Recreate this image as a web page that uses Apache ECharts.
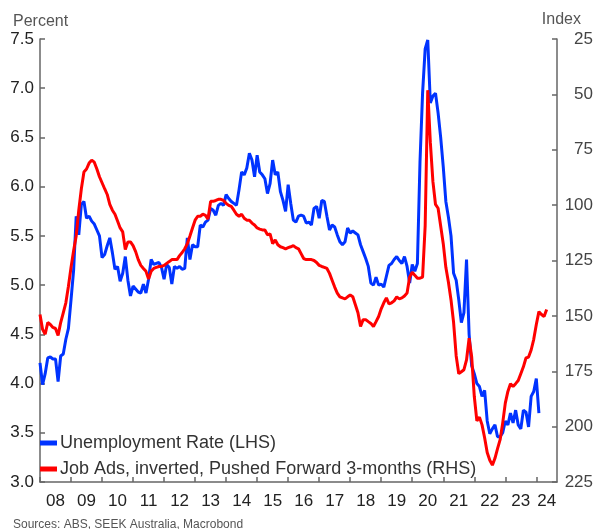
<!DOCTYPE html>
<html>
<head>
<meta charset="utf-8">
<script src="https://cdn.jsdelivr.net/npm/echarts@6/dist/echarts.min.js"></script>
<style>
  html, body { margin: 0; padding: 0; background: #fff; }
  #chart { width: 596px; height: 529px; }
</style>
</head>
<body>
<div id="chart"></div>
<script>
/* Unemployment rate vs inverted job ads, monthly Jan 2008 .. Sep 2024 */

const FIRST_YEAR = 2008;
const LAST_MONTH = '2024-09';

// Unemployment rate, % (LHS), Jan 2008 onward — one row per year
const unemployment = [
  4.21, 3.99, 4.10, 4.26, 4.27, 4.25, 4.25, 4.02, 4.28, 4.30, 4.45, 4.56,
  4.85, 5.15, 5.70, 5.51, 5.82, 5.85, 5.68, 5.70, 5.65, 5.62, 5.56, 5.50,
  5.28, 5.31, 5.40, 5.48, 5.33, 5.16, 5.19, 5.04, 5.12, 5.29, 5.05, 4.89,
  4.99, 4.96, 4.93, 4.92, 5.01, 4.92, 5.06, 5.26, 5.21, 5.22, 5.23, 5.18,
  5.06, 5.21, 5.18, 5.01, 5.19, 5.17, 5.19, 5.16, 5.17, 5.48, 5.26, 5.41,
  5.39, 5.39, 5.61, 5.59, 5.64, 5.66, 5.78, 5.76, 5.71, 5.81, 5.83, 5.81,
  5.92, 5.88, 5.85, 5.83, 5.81, 5.97, 6.15, 6.12, 6.19, 6.34, 6.27, 6.10,
  6.32, 6.15, 6.12, 6.08, 5.93, 6.03, 6.27, 6.12, 6.15, 5.95, 5.86, 5.75,
  6.02, 5.83, 5.66, 5.64, 5.70, 5.71, 5.70, 5.63, 5.64, 5.61, 5.78, 5.80,
  5.68, 5.86, 5.85, 5.70, 5.56, 5.61, 5.59, 5.51, 5.44, 5.41, 5.44, 5.58,
  5.53, 5.55, 5.53, 5.51, 5.41, 5.34, 5.27, 5.19, 5.02, 5.00, 5.08, 5.00,
  5.01, 4.98, 5.09, 5.20, 5.22, 5.26, 5.29, 5.25, 5.22, 5.29, 5.19, 5.02,
  5.21, 5.14, 5.22, 6.25, 6.95, 7.40, 7.49, 6.85, 6.92, 6.95, 6.75, 6.50,
  6.20, 5.85, 5.69, 5.50, 5.12, 5.05, 4.85, 4.62, 4.72, 5.26, 4.50, 4.18,
  4.10, 4.00, 3.97, 3.87, 3.93, 3.62, 3.49, 3.54, 3.58, 3.46, 3.46, 3.50,
  3.62, 3.58, 3.70, 3.60, 3.73, 3.58, 3.54, 3.73, 3.71, 3.56, 3.87, 3.92,
  4.05, 3.70,
];

// SEEK job ads index, pushed forward 3 months (RHS, plotted inverted)
const jobAds = [
  149.4, 156.1, 158.3, 153.0, 153.9, 155.2, 155.7, 158.8, 153.0, 148.6, 144.1, 136.6,
  128.1, 120.6, 113.9, 102.3,  92.6,  85.0,  83.7,  81.0,  79.7,  80.6,  83.7,  87.2,
   89.9,  92.6,  95.2,  99.7, 102.3, 104.1, 107.2, 110.3, 112.1, 120.1, 116.6, 116.6,
  118.3, 121.0, 124.6, 127.2, 128.6, 129.9, 133.4, 129.9, 128.6, 128.1, 127.7, 127.7,
  127.2, 126.3, 125.5, 124.6, 124.6, 124.6, 122.8, 121.4, 119.7, 117.4, 113.9, 110.3,
  106.8, 105.0, 105.0, 104.1, 104.6, 106.3,  98.3,  98.3,  97.9,  97.4,  97.4,  97.9,
   99.2, 100.1, 100.6, 102.3, 104.1, 105.0, 104.1, 105.9, 106.8, 106.8, 108.1, 109.0,
  110.3, 110.8, 111.2, 111.2, 113.4, 113.0, 117.4, 115.7, 117.9, 118.8, 119.2, 119.7,
  119.2, 118.8, 118.3, 119.2, 119.7, 121.9, 124.1, 124.6, 124.6, 124.6, 125.0, 125.9,
  127.2, 127.7, 128.1, 128.6, 130.8, 133.9, 137.0, 139.7, 141.4, 141.9, 142.3, 141.4,
  140.6, 141.4, 145.0, 148.6, 154.8, 151.7, 151.7, 152.6, 153.4, 154.8, 152.6, 150.3,
  146.8, 144.1, 141.9, 144.6, 144.1, 143.2, 141.4, 142.3, 141.9, 141.0, 139.7, 132.5,
  130.3, 131.7, 133.0, 133.0, 132.5, 109.4,  48.1,  71.7,  89.4,  99.7, 101.4, 109.4,
  117.4, 128.1, 134.8, 142.8, 153.0, 168.1, 176.1, 175.2, 174.3, 169.9, 160.1, 168.6,
  186.3, 197.4, 195.7, 199.2, 205.0, 211.7, 215.2, 217.4, 214.3, 209.9, 205.9, 198.3,
  189.4, 184.1, 180.6, 181.9, 180.6, 179.2, 176.1, 173.0, 169.0, 168.6, 165.4, 160.6,
  153.9, 148.1, 149.4, 150.3, 147.1,
];

const FONT = 'Arial, "Liberation Sans", sans-serif';
const BLUE = '#0033ff';
const RED  = '#ff0000';
const AXIS = '#666666';

// monthly categories 'YYYY-MM'
const months = [];
for (let y = FIRST_YEAR; ; y++) {
  let done = false;
  for (let m = 1; m <= 12; m++) {
    const key = `${y}-${String(m).padStart(2, '0')}`;
    months.push(key);
    if (key === LAST_MONTH) { done = true; break; }
  }
  if (done) break;
}

// year label sits mid-year; the cut-off last year is centred on its visible part
const isLabelMonth = v => v.startsWith('2024') ? v.endsWith('-05') : v.endsWith('-07');

const chart = echarts.init(document.getElementById('chart'), null, { renderer: 'canvas' });

chart.setOption({
  animation: false,
  backgroundColor: '#ffffff',
  grid: { left: 40, right: 34, top: 39, bottom: 47, containLabel: false },
  legend: {
    left: 40,
    top: 433,
    padding: 0,
    orient: 'vertical',
    icon: 'rect',
    itemWidth: 17,
    itemHeight: 5,
    itemGap: 6,
    textStyle: { fontFamily: FONT, fontSize: 18, color: '#333', lineHeight: 20, padding: [0, 0, 0, -2] },
    data: ['Unemployment Rate (LHS)', 'Job Ads, inverted, Pushed Forward 3-months (RHS)'],
  },
  xAxis: {
    type: 'category',
    data: months,
    boundaryGap: false,
    axisLine: { show: true, lineStyle: { color: AXIS, width: 1.5 } },
    axisTick: {
      show: true, inside: true, length: 5,
      interval: (i, v) => v.endsWith('-01'),
      lineStyle: { color: AXIS, width: 1.5 },
    },
    axisLabel: {
      interval: (i, v) => isLabelMonth(v),
      formatter: v => v.slice(2, 4),
      margin: 11,
      fontFamily: FONT, fontSize: 17, color: '#222',
    },
    splitLine: { show: false },
  },
  yAxis: [
    {
      type: 'value',
      min: 3, max: 7.5, interval: 0.5,
      position: 'left',
      axisLine: { show: true, lineStyle: { color: AXIS, width: 1.5 } },
      axisTick: { show: true, inside: true, length: 5, lineStyle: { color: AXIS, width: 1.5 } },
      axisLabel: {
        margin: 6, fontFamily: FONT, fontSize: 17, color: '#222',
        formatter: v => v.toFixed(1),
      },
      splitLine: { show: false },
    },
    {
      type: 'value',
      min: 25, max: 225, interval: 25,
      inverse: true,
      position: 'right',
      axisLine: { show: true, lineStyle: { color: AXIS, width: 1.5 } },
      axisTick: { show: true, inside: true, length: 5, lineStyle: { color: AXIS, width: 1.5 } },
      axisLabel: { margin: 36, align: 'right', fontFamily: FONT, fontSize: 17, color: '#444' },
      splitLine: { show: false },
    },
  ],
  series: [
    {
      name: 'Unemployment Rate (LHS)',
      type: 'line',
      yAxisIndex: 0,
      data: unemployment,
      showSymbol: false,
      color: BLUE,
      lineStyle: { color: BLUE, width: 3 },
    },
    {
      name: 'Job Ads, inverted, Pushed Forward 3-months (RHS)',
      type: 'line',
      yAxisIndex: 1,
      data: jobAds,
      showSymbol: false,
      color: RED,
      lineStyle: { color: RED, width: 3 },
    },
  ],
  graphic: [
    { type: 'text', left: 13, top: 14, style: { text: 'Percent', fontFamily: FONT, fontSize: 16, fill: '#555' } },
    { type: 'text', right: 15, top: 12, style: { text: 'Index', fontFamily: FONT, fontSize: 16, fill: '#555' } },
    { type: 'text', left: 13, top: 519, style: { text: 'Sources: ABS, SEEK Australia, Macrobond', fontFamily: FONT, fontSize: 12, fill: '#555' } },
  ],
});
</script>
</body>
</html>
